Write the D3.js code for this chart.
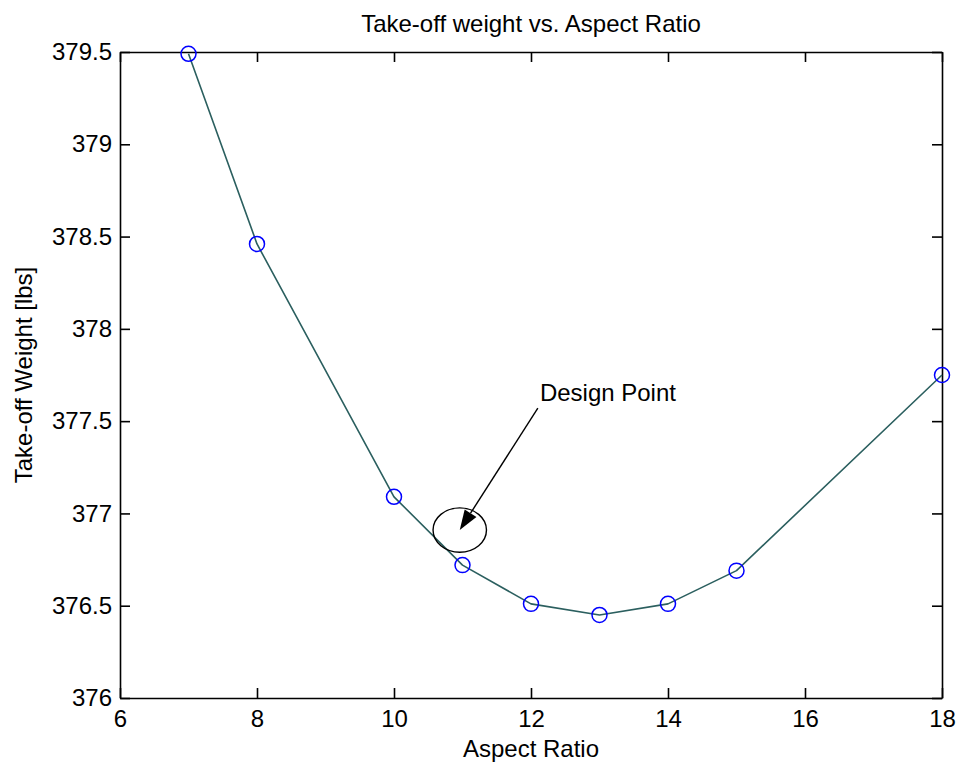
<!DOCTYPE html>
<html>
<head>
<meta charset="utf-8">
<script src="https://cdn.jsdelivr.net/npm/d3@7"></script>
<style>
  body { margin: 0; background: #fff; }
  svg text { font-family: "Liberation Sans", Arial, sans-serif; fill: #000; }
</style>
</head>
<body>
<div id="chart"></div>
<script>
// values
var aspectRatio = [7, 8, 10, 11, 12, 13, 14, 15, 18];
var takeoffWeight = [379.49, 378.46, 377.09, 376.72, 376.51, 376.45, 376.51, 376.69, 377.75];
var xTicks = [6, 8, 10, 12, 14, 16, 18];
var yTicks = [376, 376.5, 377, 377.5, 378, 378.5, 379, 379.5];

// "Design Point" annotation (data coords)
var designCenter = [10.96, 376.91];
var designRadius = [0.39, 0.12];
var arrowFrom = [12.10, 377.57];
var labelAt = [12.13, 377.61];

var W = 956, H = 764;
var plotL = 120, plotR = 942, plotT = 52, plotB = 698;

var svg = d3.select("#chart").append("svg")
  .attr("width", W).attr("height", H);

var x = d3.scaleLinear().domain([6, 18]).range([plotL, plotR]);
var y = d3.scaleLinear().domain([376, 379.5]).range([plotB, plotT]);

// axes, matlab style: box with inward ticks
function styleAxis(g) {
  g.selectAll("path, line").attr("stroke", "#000").attr("stroke-width", 1.6);
  g.selectAll("text").attr("font-size", 24).attr("fill", "#000");
}

svg.append("g").attr("transform", "translate(0," + plotB + ")")
  .call(d3.axisBottom(x).tickValues(xTicks).tickSizeInner(-10).tickSizeOuter(0).tickPadding(12))
  .call(styleAxis);
svg.append("g").attr("transform", "translate(0," + plotT + ")")
  .call(d3.axisTop(x).tickValues(xTicks).tickSizeInner(-10).tickSizeOuter(0).tickFormat(""))
  .call(styleAxis);
svg.append("g").attr("transform", "translate(" + plotL + ",0)")
  .call(d3.axisLeft(y).tickValues(yTicks).tickSizeInner(-10).tickSizeOuter(0).tickPadding(8).tickFormat(d3.format("")))
  .call(styleAxis);
svg.append("g").attr("transform", "translate(" + plotR + ",0)")
  .call(d3.axisRight(y).tickValues(yTicks).tickSizeInner(-10).tickSizeOuter(0).tickFormat(""))
  .call(styleAxis);

// curve
var pts = aspectRatio.map(function(d, i) { return [d, takeoffWeight[i]]; });
var line = d3.line()
  .x(function(d) { return x(d[0]); })
  .y(function(d) { return y(d[1]); });

svg.append("path").datum(pts)
  .attr("d", line)
  .attr("fill", "none")
  .attr("stroke", "#2b5f5f")
  .attr("stroke-width", 1.6)
  .attr("stroke-linejoin", "round");

svg.selectAll(".pt").data(pts).enter().append("circle")
  .attr("class", "pt")
  .attr("cx", function(d) { return x(d[0]); })
  .attr("cy", function(d) { return y(d[1]); })
  .attr("r", 7.5)
  .attr("fill", "none")
  .attr("stroke", "#0000ff")
  .attr("stroke-width", 1.5);

// annotation
svg.append("ellipse")
  .attr("cx", x(designCenter[0])).attr("cy", y(designCenter[1]))
  .attr("rx", x(designCenter[0] + designRadius[0]) - x(designCenter[0]))
  .attr("ry", y(designCenter[1]) - y(designCenter[1] + designRadius[1]))
  .attr("fill", "none").attr("stroke", "#000").attr("stroke-width", 1.4);

var ax0 = x(arrowFrom[0]), ay0 = y(arrowFrom[1]);
var ax1 = x(designCenter[0]), ay1 = y(designCenter[1]);
var ang = Math.atan2(ay1 - ay0, ax1 - ax0);
var headLen = 20, headW = 7;
var bx = ax1 - headLen * Math.cos(ang), by = ay1 - headLen * Math.sin(ang);

svg.append("line")
  .attr("x1", ax0).attr("y1", ay0).attr("x2", bx).attr("y2", by)
  .attr("stroke", "#000").attr("stroke-width", 1.4);
svg.append("path")
  .attr("d", "M" + ax1 + "," + ay1 +
    "L" + (bx + headW * Math.sin(ang)) + "," + (by - headW * Math.cos(ang)) +
    "L" + (bx - headW * Math.sin(ang)) + "," + (by + headW * Math.cos(ang)) + "Z")
  .attr("fill", "#000");

svg.append("text")
  .attr("x", x(labelAt[0])).attr("y", y(labelAt[1]))
  .attr("font-size", 24)
  .text("Design Point");

// titles
svg.append("text")
  .attr("x", (plotL + plotR) / 2).attr("y", 32)
  .attr("text-anchor", "middle").attr("font-size", 24)
  .text("Take-off weight vs. Aspect Ratio");

svg.append("text")
  .attr("x", (plotL + plotR) / 2).attr("y", 757)
  .attr("text-anchor", "middle").attr("font-size", 24)
  .text("Aspect Ratio");

svg.append("text")
  .attr("transform", "translate(32," + ((plotT + plotB) / 2) + ") rotate(-90)")
  .attr("text-anchor", "middle").attr("font-size", 24)
  .text("Take-off Weight [lbs]");
</script>
</body>
</html>
